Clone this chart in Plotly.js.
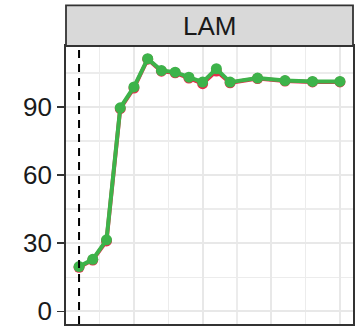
<!DOCTYPE html>
<html><head><meta charset="utf-8">
<script src="https://cdn.plot.ly/plotly-3.0.1.min.js"></script>
<style>html,body{margin:0;padding:0;background:#fff}#chart{width:358px;height:329px}</style>
</head><body><div id="chart"></div>
<script>
const years = [2001,2002,2003,2004,2005,2006,2007,2008,2009,2010,2011,2012,2014,2016,2018,2020];
const seriesRed   = [19.4,22.6,31.0,89.2,98.3,111.0,105.7,105.0,102.7,100.2,105.8,100.6,102.5,101.4,101.0,101.0];
const seriesGreen = [19.7,22.9,31.5,89.6,98.8,111.2,106.0,105.3,103.1,100.9,106.8,100.9,102.7,101.6,101.2,101.2];
const yTicks = [0,30,60,90];
const yTickLabels = ['0','30','60','90'];
const panelTitle = 'LAM';
const refYear = 2001;

const traces = [
  {x: years, y: seriesRed, mode: 'lines+markers', line: {color: '#E8294A', width: 4}, marker: {color: '#E8294A', size: 11}, hoverinfo: 'none'},
  {x: years, y: seriesGreen, mode: 'lines+markers', line: {color: '#3DB34A', width: 4}, marker: {color: '#3DB34A', size: 11}, hoverinfo: 'none'}
];
const layout = {
  width: 358, height: 329,
  margin: {l: 66, r: 4.7, t: 46, b: 4.7},
  paper_bgcolor: '#fff', plot_bgcolor: '#fff',
  showlegend: false,
  font: {family: 'Liberation Sans, Arial, sans-serif', color: '#1a1a1a'},
  xaxis: {
    range: [2000.05, 2020.95], showticklabels: false, ticks: '',
    tickvals: [2005, 2010, 2015, 2020],
    showgrid: true, gridcolor: '#e8e8e8', gridwidth: 1.8,
    minor: {tickvals: [2002.5, 2007.5, 2012.5, 2017.5], showgrid: true, gridcolor: '#ececec', gridwidth: 1.4},
    zeroline: false, showline: true, mirror: true, linecolor: '#333333', linewidth: 1.8
  },
  yaxis: {
    range: [-5.56, 116.8], tickvals: yTicks, ticktext: yTickLabels,
    ticks: 'outside', ticklen: 7, tickwidth: 1.5, tickcolor: '#333333',
    tickfont: {size: 26, color: '#1a1a1a'},
    showgrid: true, gridcolor: '#e8e8e8', gridwidth: 1.8,
    minor: {tickvals: [15, 45, 75, 105], showgrid: true, gridcolor: '#ececec', gridwidth: 1.4},
    zeroline: false, showline: true, mirror: true, linecolor: '#333333', linewidth: 1.8
  },
  shapes: [
    {type: 'line', xref: 'x', yref: 'paper', x0: refYear, x1: refYear, y0: 0, y1: 1,
     line: {color: '#000', width: 2, dash: '8px,6px'}, layer: 'above'},
    {type: 'rect', xref: 'paper', yref: 'paper', x0: 0, x1: 1, y0: 1.0, y1: 1.146,
     fillcolor: '#d9d9d9', line: {color: '#333333', width: 1.8}}
  ],
  annotations: [
    {xref: 'paper', yref: 'paper', x: 0.5, y: 1.073, text: panelTitle, showarrow: false,
     xanchor: 'center', yanchor: 'middle', font: {size: 26, color: '#1a1a1a'}}
  ]
};
Plotly.newPlot('chart', traces, layout, {displayModeBar: false, staticPlot: true});
</script></body></html>
